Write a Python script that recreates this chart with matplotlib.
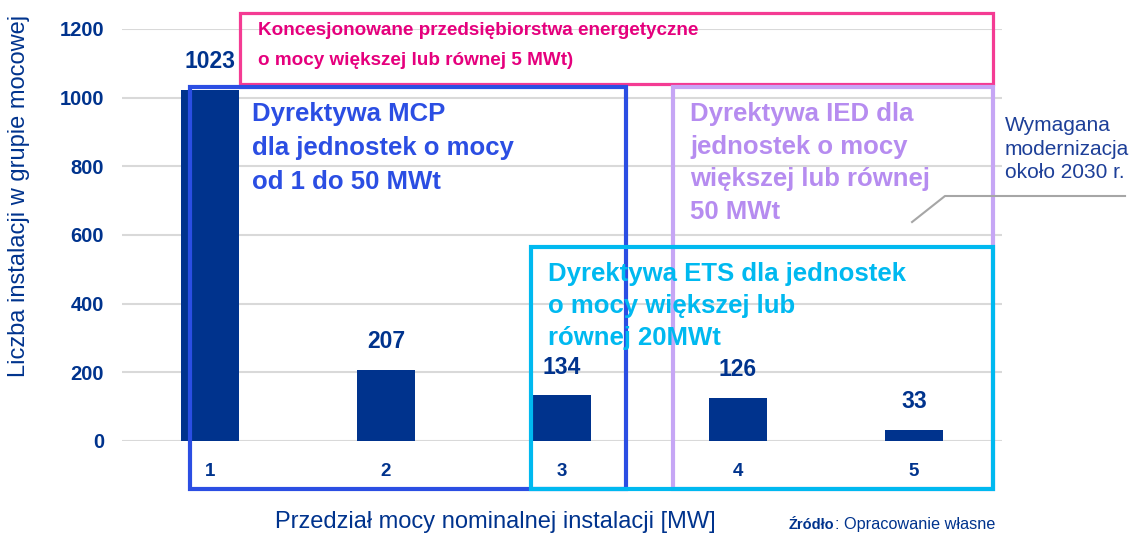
import matplotlib
matplotlib.use('Agg')
import matplotlib.pyplot as plt
import matplotlib.ticker as ticker
from matplotlib.patches import Rectangle

plt.rcParams['font.family'] = ['Liberation Sans', 'DejaVu Sans']

# dane
categories = ['1', '2', '3', '4', '5']
counts = [1023, 207, 134, 126, 33]
yticks = [0, 200, 400, 600, 800, 1000, 1200]

navy = '#00338d'
pink_edge = '#f43b93'
pink_text = '#e5007d'
blue = '#2b4ee3'
lav_edge = '#c6a6f5'
lav_text = '#b68cf0'
cyan = '#00b9f0'

fig = plt.figure(figsize=(11.34, 5.35), dpi=100)
ax = fig.add_axes([122/1134, 1-441/535, 880/1134, 412/535])

x = list(range(len(categories)))
ax.bar(x, counts, width=0.33, color=navy, zorder=2)
for xi, v in zip(x, counts):
    ax.text(xi, v + 48, str(v), ha='center', va='bottom', color=navy,
            fontsize=16.5, fontweight='bold')

ax.set_xlim(-0.5, 4.5)
ax.set_ylim(0, 1200)
ax.yaxis.set_major_locator(ticker.FixedLocator(yticks))
ax.set_xticks(x)
ax.set_xticklabels(categories, fontsize=13.5, fontweight='bold')
ax.tick_params(axis='x', length=0, pad=16, labelcolor=navy)
ax.tick_params(axis='y', length=0, pad=13, labelsize=14.5, labelcolor=navy)
for lab in ax.get_yticklabels():
    lab.set_fontweight('bold')
ax.grid(axis='y', color='#d9d9d9', lw=1.5, zorder=0)
for s in ax.spines.values():
    s.set_visible(False)

ax.set_ylabel('Liczba instalacji w grupie mocowej', color=navy, fontsize=17)
ax.yaxis.set_label_coords(-0.105, 0.595)

# ramki
boxes = [
    (0.170, 1039.8, 4.449 - 0.170, 1246.6 - 1039.8, pink_edge, 2.3),
    (-0.114, -139.8, 2.364 + 0.114, 1031 + 139.8, blue, 3.0),
    (2.631, -139.8, 4.449 - 2.631, 1031 + 139.8, lav_edge, 3.0),
    (1.824, -139.8, 4.449 - 1.824, 565 + 139.8, cyan, 3.0),
]
for bx, by, bw, bh, col, lw in boxes:
    ax.add_patch(Rectangle((bx, by), bw, bh, fill=False, edgecolor=col,
                           lw=lw, clip_on=False, zorder=3))

ax.text(0.273, 1219, 'Koncesjonowane przedsiębiorstwa energetyczne\n'
        'o mocy większej lub równej 5 MWt)', color=pink_text,
        fontsize=13.6, fontweight='bold', va='top', ha='left',
        linespacing=1.97, zorder=4)
ax.text(0.239, 986, 'Dyrektywa MCP\ndla jednostek o mocy\nod 1 do 50 MWt',
        color=blue, fontsize=18.5, fontweight='bold', va='top', ha='left',
        linespacing=1.52, zorder=4)
ax.text(2.727, 986, 'Dyrektywa IED dla\njednostek o mocy\n'
        'większej lub równej\n50 MWt', color=lav_text, fontsize=18.5,
        fontweight='bold', va='top', ha='left', linespacing=1.44, zorder=4)
ax.text(1.920, 521, 'Dyrektywa ETS dla jednostek\no mocy większej lub\n'
        'równej 20MWt', color=cyan, fontsize=18.5, fontweight='bold',
        va='top', ha='left', linespacing=1.42, zorder=4)

# adnotacja
ax.plot([3.989, 4.176, 5.199], [637.8, 713.6, 713.6], color='#a6a6a6',
        lw=1.5, clip_on=False, zorder=4)
ax.text(4.517, 946, 'Wymagana\nmodernizacja\nokoło 2030 r.', color='#1d3f98',
        fontsize=15, va='top', ha='left', linespacing=1.3)

fig.text(495/1134, 1-522/535, 'Przedział mocy nominalnej instalacji [MW]',
         color=navy, fontsize=17, ha='center', va='center')
fig.text(789/1134, 1-525/535, 'Źródło', color=navy, fontsize=10.5,
         fontweight='bold', ha='left', va='center')
fig.text(835/1134, 1-525/535, ': Opracowanie własne', color=navy,
         fontsize=11.7, ha='left', va='center')

fig.savefig('out.png', dpi=100)
